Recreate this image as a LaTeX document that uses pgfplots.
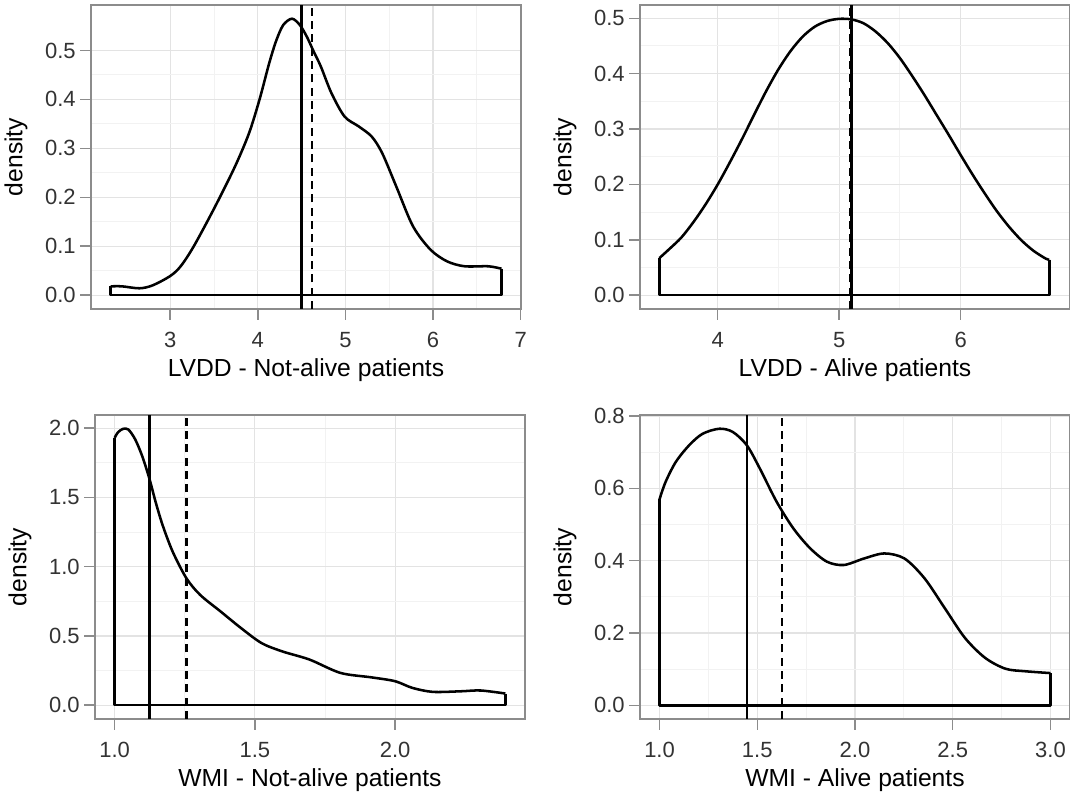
\documentclass[border=0pt]{standalone}
\usepackage{fontspec}
\setmainfont{Liberation Sans}
\usepackage{pgfplots}
\pgfplotsset{compat=1.18}

\pgfplotsset{
  dens/.style={
    scale only axis, width=322.5pt, height=228pt,
    axis line style={black!45, line width=1.1pt},
    grid=both,
    major grid style={black!11, line width=0.9pt},
    minor grid style={black!5, line width=0.7pt},
    minor tick num=1,
    tick align=outside,
    major tick length=8pt, minor tick length=0pt,
    tick style={black!45, line width=1.1pt},
    xtick pos=bottom, ytick pos=left,
    ticklabel style={font=\fontsize{16.5}{19}\selectfont, text=black!80},
    xticklabel style={yshift=-6pt},
    label style={font=\fontsize{18.5}{22}\selectfont},
    /pgf/number format/assume math mode=true,
    xlabel style={at={(axis description cs:0.5,-0.2)}, anchor=center},
    ylabel style={at={(axis description cs:-0.1744,0.5)}, anchor=center},
    ylabel={density},
    anchor=south west,
  },
  curve/.style={black, line width=1.9pt, line join=round, smooth, no marks},
  edge/.style={black, line width=1.9pt, line join=round, sharp plot, no marks},
  solidv/.style={black, line width=1.7pt, no marks},
  dashv/.style={black, line width=1.7pt, no marks, dash pattern=on 6pt off 4pt},
}

\begin{document}
\begin{tikzpicture}
\useasboundingbox (0,0) rectangle (802.5pt,596.25pt);

% Panel 1
\begin{axis}[dens, at={(68.25pt,364.5pt)},
  xmin=2.097, xmax=7.003, ymin=-0.0283, ymax=0.593,
  xtick={3,4,5,6,7}, ytick={0,0.1,0.2,0.3,0.4,0.5},
  yticklabel style={/pgf/number format/.cd, fixed, fixed zerofill, precision=1},
  xlabel={LVDD - Not-alive patients}]
\addplot[curve] coordinates {(2.32,0.018) (2.45,0.018) (2.65,0.014) (2.80,0.020) (3.00,0.039) (3.12,0.059) (3.27,0.100) (3.51,0.180) (3.74,0.263) (3.90,0.331) (4.02,0.400) (4.13,0.474) (4.21,0.520) (4.29,0.552) (4.39,0.565) (4.48,0.552) (4.56,0.528) (4.64,0.497) (4.72,0.467) (4.84,0.413) (4.99,0.365) (5.15,0.345) (5.30,0.324) (5.42,0.290) (5.58,0.222) (5.77,0.141) (5.97,0.093) (6.16,0.069) (6.36,0.059) (6.63,0.059) (6.78,0.054)};
\addplot[edge] coordinates {(6.78,0.054) (6.78,0) (2.32,0) (2.32,0.018)};
\addplot[solidv] coordinates {(4.50,-0.0283) (4.50,0.593)};
\addplot[dashv] coordinates {(4.62,-0.0283) (4.62,0.593)};
\end{axis}

% Panel 2
\begin{axis}[dens, at={(480pt,364.5pt)},
  xmin=3.36, xmax=6.90, ymin=-0.025, ymax=0.524,
  xtick={4,5,6}, ytick={0,0.1,0.2,0.3,0.4,0.5},
  yticklabel style={/pgf/number format/.cd, fixed, fixed zerofill, precision=1},
  xlabel={LVDD - Alive patients}]
\addplot[curve] coordinates {(3.52,0.067) (3.6,0.083) (3.7,0.104) (3.8,0.132) (3.9,0.164) (4.0,0.200) (4.1,0.240) (4.2,0.282) (4.3,0.326) (4.4,0.369) (4.5,0.408) (4.6,0.441) (4.7,0.467) (4.8,0.485) (4.9,0.495) (5.0,0.499) (5.1,0.498) (5.2,0.491) (5.3,0.476) (5.4,0.455) (5.5,0.428) (5.6,0.396) (5.7,0.362) (5.8,0.326) (5.9,0.290) (6.0,0.253) (6.1,0.217) (6.2,0.183) (6.3,0.151) (6.4,0.123) (6.5,0.099) (6.6,0.080) (6.7,0.066) (6.73,0.064)};
\addplot[edge] coordinates {(6.73,0.064) (6.73,0) (3.52,0) (3.52,0.067)};
\addplot[dashv] coordinates {(5.09,-0.025) (5.09,0.524)};
\addplot[solidv] coordinates {(5.10,-0.025) (5.10,0.524)};
\end{axis}

% Panel 3
\begin{axis}[dens, at={(71.25pt,57pt)},
  xmin=0.930, xmax=2.463, ymin=-0.0998, ymax=2.095,
  xtick={1,1.5,2}, ytick={0,0.5,1,1.5,2},
  xticklabel style={/pgf/number format/.cd, fixed, fixed zerofill, precision=1},
  yticklabel style={/pgf/number format/.cd, fixed, fixed zerofill, precision=1},
  xlabel={WMI - Not-alive patients}]
\addplot[curve] coordinates {(1.0,1.93) (1.012,1.97) (1.03,1.995) (1.049,1.99) (1.073,1.92) (1.098,1.80) (1.124,1.635) (1.146,1.468) (1.171,1.30) (1.207,1.108) (1.256,0.916) (1.305,0.796) (1.378,0.676) (1.451,0.556) (1.524,0.448) (1.598,0.388) (1.695,0.329) (1.805,0.233) (1.915,0.201) (2.0,0.173) (2.061,0.125) (2.134,0.096) (2.232,0.100) (2.305,0.106) (2.393,0.084)};
\addplot[edge] coordinates {(2.393,0.084) (2.393,0) (1.0,0) (1.0,1.93)};
\addplot[solidv] coordinates {(1.124,-0.0998) (1.124,2.095)};
\addplot[dashv] coordinates {(1.256,-0.0998) (1.256,2.095)};
\end{axis}

% Panel 4
\begin{axis}[dens, at={(480pt,57pt)},
  xmin=0.9, xmax=3.1, ymin=-0.038, ymax=0.803,
  xtick={1,1.5,2,2.5,3}, ytick={0,0.2,0.4,0.6,0.8},
  xticklabel style={/pgf/number format/.cd, fixed, fixed zerofill, precision=1},
  yticklabel style={/pgf/number format/.cd, fixed, fixed zerofill, precision=1},
  xlabel={WMI - Alive patients}]
\addplot[curve] coordinates {(1.0,0.570) (1.031,0.618) (1.083,0.673) (1.151,0.719) (1.22,0.751) (1.306,0.765) (1.375,0.756) (1.447,0.719) (1.513,0.655) (1.599,0.563) (1.685,0.489) (1.771,0.434) (1.857,0.397) (1.943,0.388) (2.046,0.406) (2.15,0.420) (2.253,0.406) (2.356,0.351) (2.46,0.268) (2.563,0.186) (2.666,0.131) (2.77,0.101) (2.873,0.094) (3.0,0.089)};
\addplot[edge] coordinates {(3.0,0.089) (3.0,0) (1.0,0) (1.0,0.570)};
\addplot[solidv] coordinates {(1.447,-0.038) (1.447,0.803)};
\addplot[dashv] coordinates {(1.628,-0.038) (1.628,0.803)};
\end{axis}
\end{tikzpicture}
\end{document}
